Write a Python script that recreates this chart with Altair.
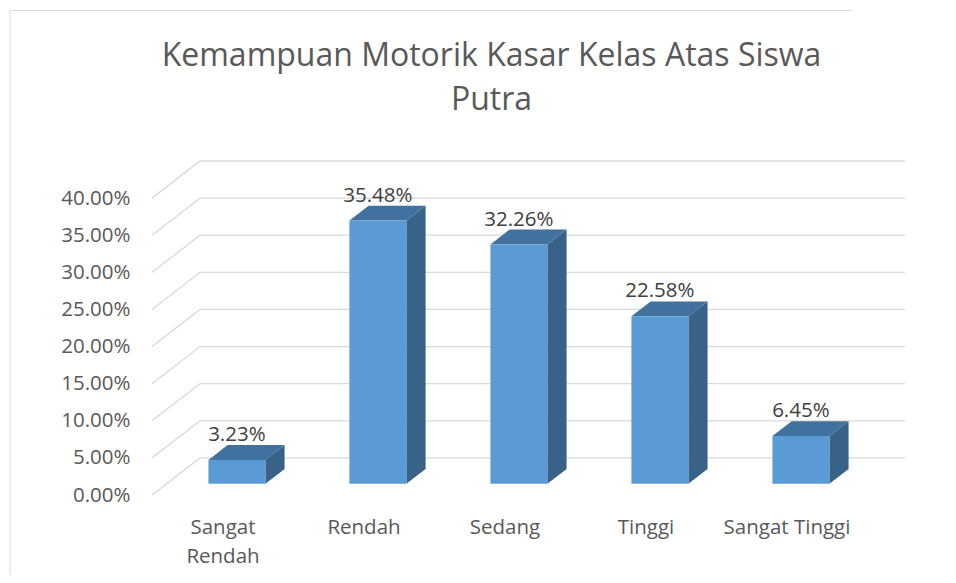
import altair as alt
import pandas as pd

# ---- data ----
categories = ["Sangat Rendah", "Rendah", "Sedang", "Tinggi", "Sangat Tinggi"]
values = [3.23, 35.48, 32.26, 22.58, 6.45]          # percent
y_ticks = [0, 5, 10, 15, 20, 25, 30, 35, 40]         # percent
title_lines = ["Kemampuan Motorik Kasar Kelas Atas Siswa", "Putra"]

# ---- 3D projection geometry (in data units) ----
N = len(categories)
DX = 48 / 141.0      # horizontal shift of the full depth (category units)
DY = 5.0             # vertical shift of the full depth (percent units)
HALF_W = 0.202       # half width of a column (category units)
D0, D1 = 0.3, 0.7    # column depth range (fraction of full depth)
X_MAX = N + DX
Y_MAX = 45

W, H = 753, 334
FRONT = "#5B9BD5"
TOP = "#41729F"
SIDE = "#386288"
GRID = "#D9D9D9"
TXT = "#595959"
FONT = "Open Sans"
FS = 20.5

xs = alt.Scale(domain=[0, X_MAX], nice=False, zero=False)
ys = alt.Scale(domain=[0, Y_MAX], nice=False)

# gridlines: front-left -> back-left -> back-right
grid_rows = []
for t in y_ticks:
    grid_rows += [
        {"t": t, "o": 0, "x": 0.0, "y": t},
        {"t": t, "o": 1, "x": DX, "y": t + DY},
        {"t": t, "o": 2, "x": X_MAX, "y": t + DY},
    ]
grid_df = pd.DataFrame(grid_rows)

front_rows, top_rows, side_rows, lab_rows = [], [], [], []
for i, (c, v) in enumerate(zip(categories, values)):
    cx = i + 0.5
    L, R = cx - HALF_W, cx + HALF_W
    front_rows.append({"c": c, "x": L + D0 * DX, "x2": R + D0 * DX,
                       "y": D0 * DY, "y2": v + D0 * DY})
    top_rows += [
        {"c": c, "y": v + D0 * DY, "x": L + D0 * DX, "x2": R + D0 * DX},
        {"c": c, "y": v + D1 * DY, "x": L + D1 * DX, "x2": R + D1 * DX},
    ]
    side_rows += [
        {"c": c, "x": R + D0 * DX, "y": D0 * DY, "y2": v + D0 * DY},
        {"c": c, "x": R + D1 * DX, "y": D1 * DY, "y2": v + D1 * DY},
    ]
    lab_rows.append({"c": c, "x": cx + D0 * DX, "y": v + D1 * DY,
                     "t": f"{v:.2f}%"})

front_df = pd.DataFrame(front_rows)
top_df = pd.DataFrame(top_rows)
side_df = pd.DataFrame(side_rows)
lab_df = pd.DataFrame(lab_rows)

label_expr = " : ".join(
    [f"datum.value == {i + 0.5} ? {repr(c.split(' ') if c == 'Sangat Rendah' else c)}"
     for i, c in enumerate(categories)]) + " : ''"

x_axis = alt.Axis(values=[i + 0.5 for i in range(N)], labelExpr=label_expr,
                  domain=False, ticks=False, grid=False, title=None,
                  labelFont=FONT, labelFontSize=FS, labelColor=TXT,
                  labelPadding=22, labelLineHeight=29.5, labelAngle=0)
y_axis = alt.Axis(values=y_ticks, labelExpr="format(datum.value, '.2f') + '%'",
                  domain=False, ticks=False, tickSize=0, grid=False, title=None,
                  labelFont=FONT, labelFontSize=FS, labelColor=TXT,
                  labelPadding=22)

grid = alt.Chart(grid_df).mark_line(color=GRID, strokeWidth=1.3).encode(
    x=alt.X("x:Q", scale=xs, axis=x_axis),
    y=alt.Y("y:Q", scale=ys, axis=y_axis),
    detail="t:N",
    order="o:Q",
)

side = alt.Chart(side_df).mark_area(color=SIDE, orient="vertical").encode(
    x=alt.X("x:Q", scale=xs), y=alt.Y("y2:Q", scale=ys), y2="y:Q", detail="c:N")

top = alt.Chart(top_df).mark_area(color=TOP, orient="horizontal").encode(
    y=alt.Y("y:Q", scale=ys), x=alt.X("x:Q", scale=xs), x2="x2:Q", detail="c:N")

front = alt.Chart(front_df).mark_rect(color=FRONT).encode(
    x=alt.X("x:Q", scale=xs), x2="x2:Q", y=alt.Y("y:Q", scale=ys), y2="y2:Q")

labels = alt.Chart(lab_df).mark_text(font=FONT, fontSize=FS, color="#404040",
                                     baseline="middle", dy=-10).encode(
    x=alt.X("x:Q", scale=xs), y=alt.Y("y:Q", scale=ys), text="t:N")

# chart frame (top and left edges)
frame_top = alt.Chart(pd.DataFrame({"a": [0]})).mark_rule(color="#D9D9D9", strokeWidth=1).encode(
    x=alt.value(-142), x2=alt.value(700), y=alt.value(-150.5), y2=alt.value(-150.5))
frame_left = alt.Chart(pd.DataFrame({"a": [0]})).mark_rule(color="#D9D9D9", strokeWidth=1).encode(
    x=alt.value(-142), x2=alt.value(-142), y=alt.value(-150.5), y2=alt.value(414))

chart = alt.layer(frame_top, frame_left, grid, side, top, front, labels).properties(
    width=W, height=H,
    background="white",
    padding={"left": 144, "top": 153, "right": 43, "bottom": 80},
    autosize=alt.AutoSizeParams(type="none"),
    title=alt.TitleParams(text=title_lines, font=FONT, fontSize=32, fontWeight="normal",
                          color=TXT, lineHeight=44, anchor="middle", dx=-37,
                          frame="group", baseline="alphabetic", offset=-132),
).configure_view(strokeWidth=0)

chart.save("out.html", embed_options={"renderer": "svg", "actions": False})
